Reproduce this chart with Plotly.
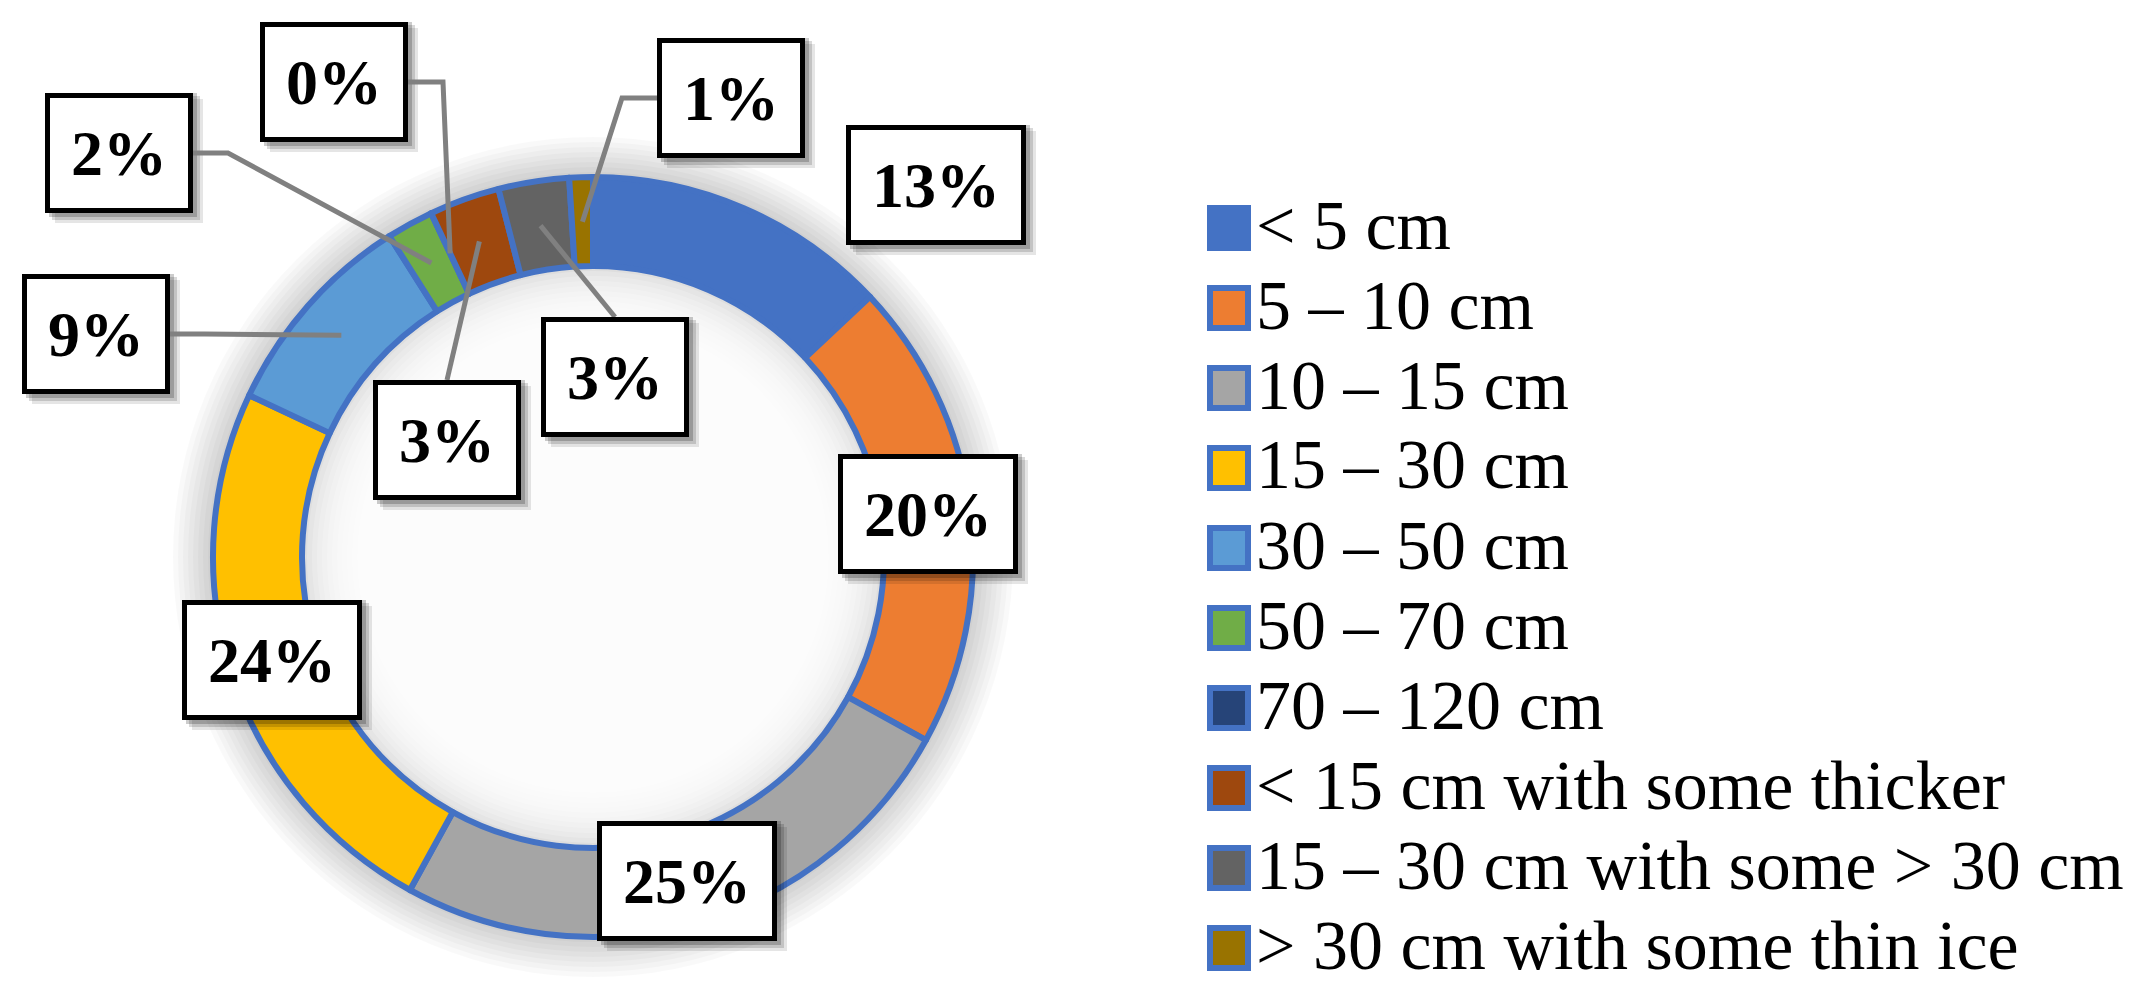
import math
import plotly.graph_objects as go

# data
labels = ["< 5 cm", "5 – 10 cm", "10 – 15 cm", "15 – 30 cm", "30 – 50 cm", "50 – 70 cm",
          "70 – 120 cm", "< 15 cm with some thicker", "15 – 30 cm with some > 30 cm",
          "> 30 cm with some thin ice"]
shares = [13, 20, 25, 24, 9, 2, 0, 3, 3, 1]
colors = ["#4472C4", "#ED7D31", "#A5A5A5", "#FFC000", "#5B9BD5", "#70AD47",
          "#264478", "#9E480E", "#636363", "#997300"]

W, H = 2152, 999
PAGE = 8  # default body margin of the html page
CX, CY, R_OUT, R_IN = 593, 557, 380, 291
EDGE = "#4472C4"

# label boxes (pixel centre) and where the leader line leaves the box
label_pos = [(936, 185), (928, 514), (687, 881), (272, 660), (96, 334), (119, 153),
             (334, 82), (447, 440), (615, 377), (731, 98)]
leader = [None, None, None, None, "right", "right", "right", "top", "top", "left"]

FW, FH = W - PAGE, H - PAGE


def px(x):
    return (x - PAGE) / FW


def py(y):
    return 1 - (y - PAGE) / FH


fig = go.Figure()

# soft shadow round the ring
for k in range(8, 0, -1):
    d = k * 5
    fig.add_shape(type="circle", xref="paper", yref="paper", layer="below",
                  x0=px(CX - R_OUT - d), x1=px(CX + R_OUT + d),
                  y0=py(CY + R_OUT + d), y1=py(CY - R_OUT - d),
                  fillcolor="rgba(0,0,0,0.025)", line_width=0)
fig.add_shape(type="circle", xref="paper", yref="paper", layer="below",
              x0=px(CX - R_IN), x1=px(CX + R_IN), y0=py(CY + R_IN), y1=py(CY - R_IN),
              fillcolor="rgb(222,222,222)", line_width=0)
for k in range(1, 12):
    d = k * 5
    fig.add_shape(type="circle", xref="paper", yref="paper", layer="below",
                  x0=px(CX - R_IN + d), x1=px(CX + R_IN - d),
                  y0=py(CY + R_IN - d), y1=py(CY - R_IN + d),
                  fillcolor="rgba(255,255,255,0.22)", line_width=0)

fig.add_trace(go.Pie(
    labels=labels, values=shares, sort=False, direction="clockwise", rotation=0,
    hole=R_IN / R_OUT,
    marker=dict(colors=colors, line=dict(color=EDGE, width=6)),
    textinfo="none", hoverinfo="label+percent", showlegend=False,
    domain=dict(x=[px(CX - R_OUT), px(CX + R_OUT)], y=[py(CY + R_OUT), py(CY - R_OUT)]),
))

total = sum(shares)
cum = 0
r_mid = (R_OUT + R_IN) / 2
for i, v in enumerate(shares):
    ang = 2 * math.pi * (cum + v / 2) / total
    cum += v
    sx = CX + r_mid * math.sin(ang)
    sy = CY - r_mid * math.cos(ang)
    bx, by = label_pos[i]
    txt = f"{round(100 * v / total)}%"
    hw = 90 if len(txt) > 2 else 74
    hh = 60
    # box shadow
    for s, op in [(10, 0.10), (7, 0.15), (4, 0.2)]:
        fig.add_shape(type="rect", xref="paper", yref="paper", layer="above",
                      x0=px(bx - hw + s), x1=px(bx + hw + s), y0=py(by + hh + s), y1=py(by - hh + s - 4),
                      fillcolor=f"rgba(0,0,0,{op})", line_width=0)
    side = leader[i]
    if side is not None:
        if side == "right":
            ax, ay = bx + hw, by
            ex, ey = ax + 35, ay
        elif side == "left":
            ax, ay = bx - hw, by
            ex, ey = ax - 35, ay
        else:
            ax, ay = bx, by - hh
            ex, ey = ax, ay
        path = f"M {px(sx)},{py(sy)} L {px(ex)},{py(ey)} L {px(ax)},{py(ay)}"
        fig.add_shape(type="path", xref="paper", yref="paper", layer="above", path=path,
                      line=dict(color="#808080", width=5))
    fig.add_annotation(x=px(bx), y=py(by), xref="paper", yref="paper", text=f"<b>{txt}</b>",
                       showarrow=False, xanchor="center", yanchor="middle",
                       width=2 * hw - 10, height=2 * hh - 10,
                       bgcolor="white", bordercolor="black", borderwidth=5, borderpad=0,
                       font=dict(family="Liberation Serif", size=64, color="black"))

# legend
for i, lab in enumerate(labels):
    yc = 228 + 80 * i
    fig.add_shape(type="rect", xref="paper", yref="paper", layer="above",
                  x0=px(1210), x1=px(1248), y0=py(yc + 20), y1=py(yc - 20),
                  fillcolor=colors[i], line=dict(color=EDGE, width=6))
    fig.add_annotation(x=px(1254), y=py(yc - 3), xref="paper", yref="paper", text=lab,
                       showarrow=False, xanchor="left", yanchor="middle",
                       font=dict(family="Liberation Serif", size=70, color="black"))

fig.update_layout(width=FW, height=FH, margin=dict(l=0, r=0, t=0, b=0),
                  paper_bgcolor="white", plot_bgcolor="white")

fig.write_html("out.html")
